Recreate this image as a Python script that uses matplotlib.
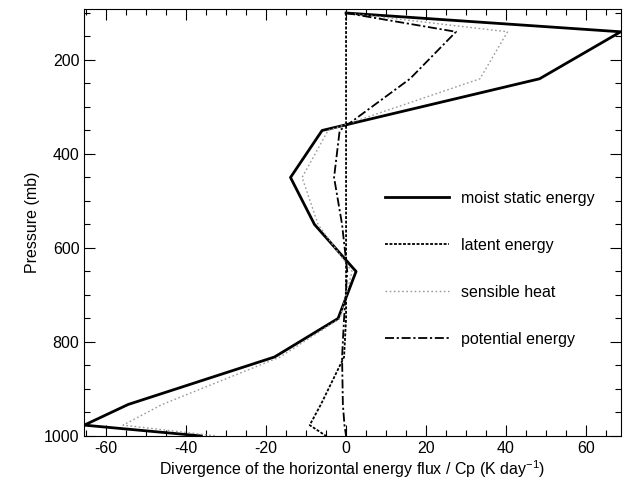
import numpy as np
import matplotlib
matplotlib.use('Agg')
import matplotlib.pyplot as plt
from matplotlib.ticker import MultipleLocator

plt.rcParams['font.family'] = ['Liberation Sans', 'DejaVu Sans']
plt.rcParams['mathtext.default'] = 'regular'
plt.rcParams['axes.unicode_minus'] = False

# pressure levels (mb)
pressure = [100, 140, 240, 350, 450, 550, 650, 750, 832, 933, 977, 1000]

# divergence of horizontal energy flux / Cp (K/day)
moist_static = [0, 68.7, 48.4, -6.0, -13.9, -7.9, 2.5, -2.0, -17.9, -54.5, -65.5, -36.2]
latent = [0, 0, 0, 0, 0, 0, 0, 0, -0.5, -6.3, -9.1, -5.0]
sensible = [0, 40.4, 33.5, -4.5, -11.0, -7.0, 1.5, -1.5, -16.5, -46.0, -55.8, -32.5]
potential = [0, 27.5, 16.0, -1.6, -3.0, -1.0, 0.3, -0.5, -1.0, -0.8, -0.4, 0]

fig = plt.figure(figsize=(6.24, 4.86), dpi=100)
ax = fig.add_axes([0.135, 0.103, 0.86, 0.878])

ax.plot(moist_static, pressure, color='black', lw=2.0, label='moist static energy')
ax.plot(latent, pressure, color='black', lw=1.3, dashes=(1.6, 0.9), label='latent energy')
ax.plot(sensible, pressure, color='#9a9a9a', lw=1.0, dashes=(1.2, 1.8), label='sensible heat')
ax.plot(potential, pressure, color='black', lw=1.3, dashes=(5, 1.5, 1.2, 1.5), label='potential energy')

ax.set_xlim(-65.5, 68.75)
ax.set_ylim(1000, 92)

ax.xaxis.set_major_locator(MultipleLocator(20))
ax.xaxis.set_minor_locator(MultipleLocator(5))
ax.yaxis.set_major_locator(MultipleLocator(200))
ax.yaxis.set_minor_locator(MultipleLocator(50))
ax.tick_params(which='both', direction='in', top=True, right=True, labelsize=11.5, width=0.8)
ax.tick_params(which='major', length=8)
ax.tick_params(which='minor', length=4)
for s in ax.spines.values():
    s.set_linewidth(0.8)

ax.set_xlabel('Divergence of the horizontal energy flux / Cp (K day$^{-1}$)', fontsize=11.5, labelpad=2)
ax.set_ylabel('Pressure (mb)', fontsize=11.5, labelpad=3)

ax.legend(loc='upper left', bbox_to_anchor=(385 / 624, 1 - 191 / 486), bbox_transform=fig.transFigure,
          frameon=False, fontsize=11.5, handlelength=4.0, handletextpad=0.75, labelspacing=2.0,
          borderpad=0, borderaxespad=0)

fig.savefig('out.png', dpi=100)
